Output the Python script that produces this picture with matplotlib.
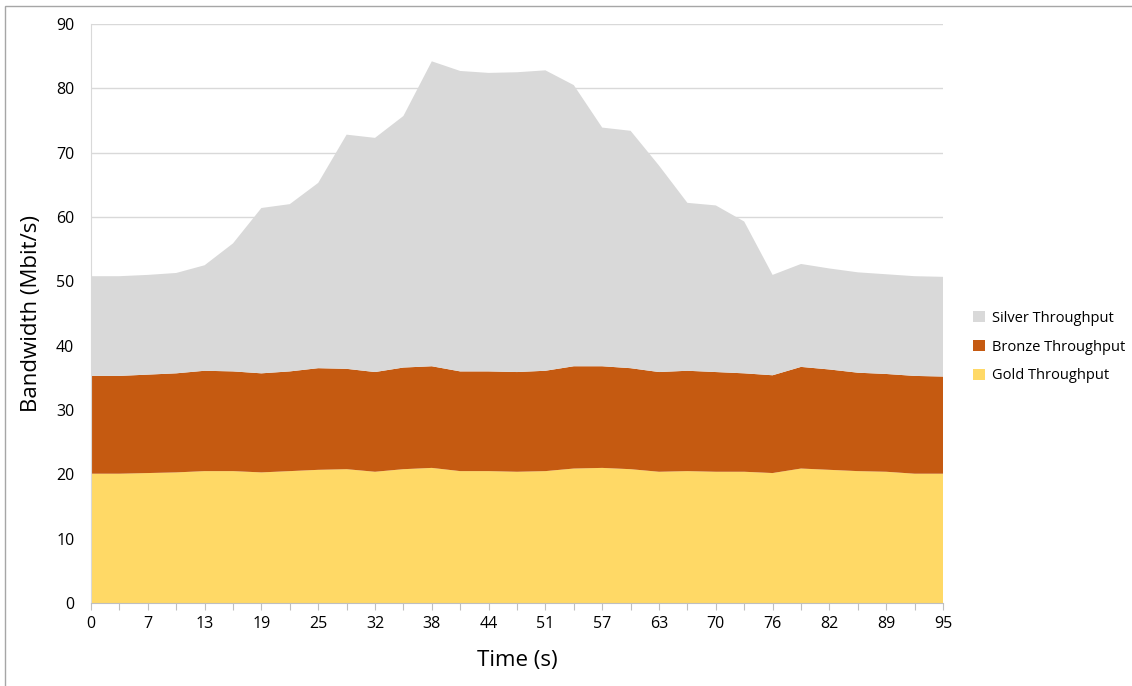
import matplotlib.pyplot as plt
from matplotlib.patches import Rectangle
import numpy as np

# time labels (Excel category axis, every other one shown)
time_labels = ['0', '3', '7', '10', '13', '16', '19', '22', '25', '28', '32',
               '35', '38', '41', '44', '47', '51', '54', '57', '60', '63',
               '66', '70', '73', '76', '79', '82', '85', '89', '92', '95']

gold = [20.1, 20.1, 20.2, 20.3, 20.5, 20.5, 20.3, 20.5, 20.7, 20.8, 20.4,
        20.8, 21.0, 20.5, 20.5, 20.4, 20.5, 20.9, 21.0, 20.8, 20.4,
        20.5, 20.4, 20.4, 20.2, 20.9, 20.7, 20.5, 20.4, 20.1, 20.1]
bronze = [15.2, 15.2, 15.3, 15.4, 15.6, 15.5, 15.4, 15.5, 15.8, 15.6, 15.5,
          15.8, 15.8, 15.5, 15.5, 15.5, 15.6, 15.9, 15.8, 15.7, 15.5,
          15.6, 15.5, 15.3, 15.2, 15.8, 15.6, 15.3, 15.2, 15.2, 15.1]
silver = [15.5, 15.5, 15.5, 15.6, 16.4, 19.9, 25.7, 26.0, 28.8, 36.4, 36.4,
          39.1, 47.4, 46.7, 46.4, 46.6, 46.7, 43.7, 37.1, 36.9, 32.1,
          26.1, 25.9, 23.6, 15.6, 16.0, 15.7, 15.6, 15.5, 15.5, 15.5]

series_names = ['Gold Throughput', 'Bronze Throughput', 'Silver Throughput']
colors = ['#FFD966', '#C55A11', '#D9D9D9']

plt.rcParams['font.family'] = ['Open Sans', 'DejaVu Sans']

fig = plt.figure(figsize=(11.32, 6.86), dpi=100)
ax = fig.add_axes([91 / 1132, 83 / 686, 852 / 1132, 579 / 686])

x = np.arange(len(time_labels))
ax.stackplot(x, gold, bronze, silver, colors=colors, labels=series_names,
             linewidth=0, zorder=2)

# grid
ax.set_ylim(0, 90)
ax.set_yticks(range(0, 91, 10))
ax.yaxis.grid(True, color='#D9D9D9', linewidth=1, zorder=0)
ax.set_axisbelow(True)
ax.set_xlim(0, len(time_labels) - 1)

ax.set_xticks(x)
ax.set_xticklabels([lbl if i % 2 == 0 else '' for i, lbl in enumerate(time_labels)])
ax.tick_params(axis='x', length=5, color='#BFBFBF', labelsize=11.5, pad=4)
ax.tick_params(axis='y', length=0, labelsize=11.5, pad=12)

for s in ['top', 'right']:
    ax.spines[s].set_visible(False)
ax.spines['left'].set_color('#D9D9D9')
ax.spines['bottom'].set_color('#BFBFBF')
ax.spines['bottom'].set_zorder(3)

ax.set_xlabel('Time (s)', fontsize=16, labelpad=13)
ax.set_ylabel('Bandwidth (Mbit/s)', fontsize=16, labelpad=10)

handles, labels = ax.get_legend_handles_labels()
ax.legend(handles[::-1], labels[::-1], loc='center left',
          bbox_to_anchor=(1.02, 0.442), frameon=False, fontsize=10.5,
          handlelength=0.8, handleheight=0.8, handletextpad=0.5,
          labelspacing=0.95)

# outer chart border
fig.patches.append(Rectangle((5 / 1132, -0.1), 1.2, (680 / 686) + 0.1,
                             transform=fig.transFigure, fill=False,
                             edgecolor='#A6A6A6', linewidth=1))

fig.savefig('out.png', dpi=100)
